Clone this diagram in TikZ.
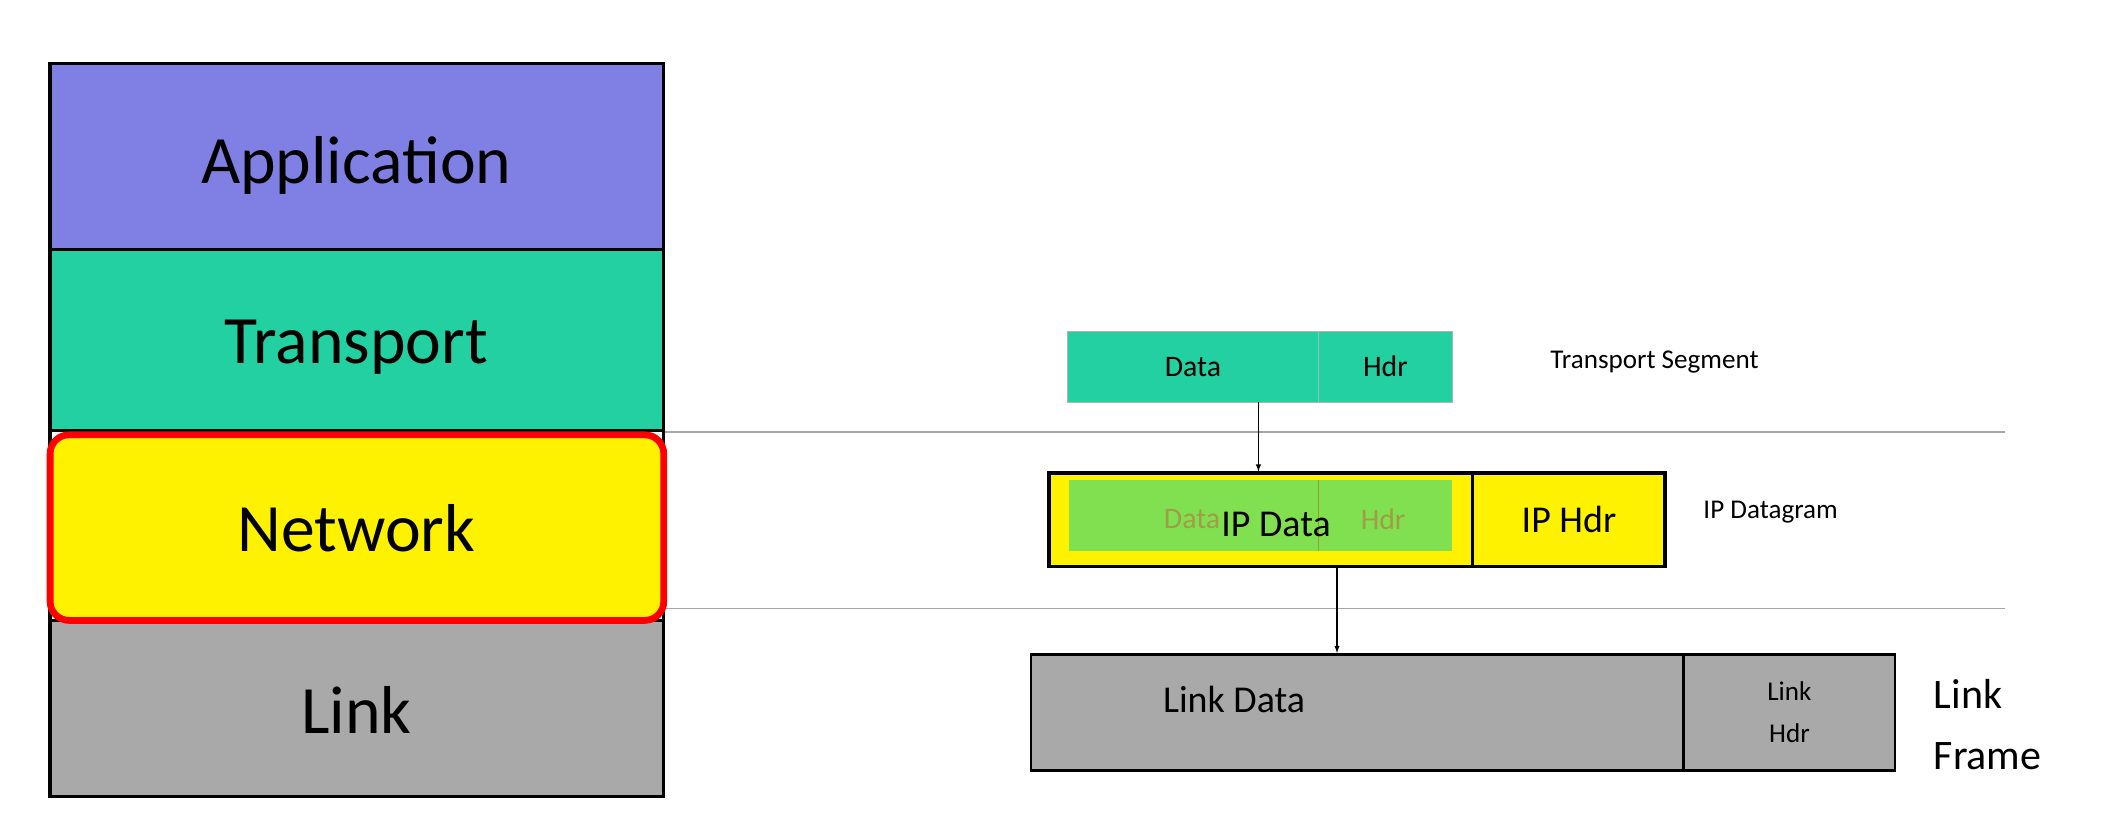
\documentclass[tikz,border=0pt]{standalone}
\usepackage{fontspec}
\setmainfont{Carlito}
\begin{document}
\begin{tikzpicture}[x=1pt,y=-1pt,
  lay/.style={draw=black,line width=2.5pt},
  big/.style={font=\fontsize{50}{54}\selectfont},
  mid/.style={font=\fontsize{28}{30}\selectfont},
  sm/.style={font=\fontsize{22}{24}\selectfont},
  lbl/.style={font=\fontsize{20}{22}\selectfont,anchor=west},
  sep/.style={draw=gray!70,line width=1pt}]
\useasboundingbox (0,0) rectangle (1568,610);
\definecolor{app}{HTML}{8080E4}
\definecolor{tra}{HTML}{22D0A2}
\definecolor{lnk}{HTML}{A9A9A9}
\definecolor{grn}{HTML}{80E050}
% separators
\draw[sep] (490,319) -- (1480,319);
\draw[sep] (490,449) -- (1480,449);
% stack
\fill[app] (37,47) rectangle (490,184);
\fill[tra] (37,184) rectangle (490,318);
\fill[lnk] (37,458) rectangle (490,588);
\draw[lay] (37,47) rectangle (490,588);
\draw[lay] (37,184) -- (490,184);
\draw[lay] (37,318) -- (490,318);
\draw[lay] (37,458) -- (490,458);
\draw[fill=yellow,draw=red,line width=5pt,rounded corners=14pt] (37,321) rectangle (490,458);
\node[big] (app) at (263,122) {Application};
\node[big] (tra) at (263,256) {Transport};
\node[big] (net) at (263,390) {Network};
\node[big] (lnk) at (263,524) {Link};
% transport segment
\node[draw=gray!60,fill=tra,minimum width=185pt,minimum height=53pt,inner sep=0pt,anchor=north west,sm] (td) at (788,244) {Data};
\node[draw=gray!60,fill=tra,minimum width=99pt,minimum height=53pt,inner sep=0pt,anchor=north west,sm] (th) at (973,244) {Hdr};
\node[lbl] (tl) at (1141,267) {Transport Segment};
% IP datagram
\node[draw=black,line width=2.5pt,fill=yellow,minimum width=313pt,minimum height=69pt,inner sep=0pt,anchor=north west] (ipd) at (773,348) {};
\node[draw=black,line width=2.5pt,fill=yellow,minimum width=142pt,minimum height=69pt,inner sep=0pt,anchor=north west,mid] (iph) at (1086,348) {IP Hdr};
\fill[grn] (789,354) rectangle (1072,407);
\draw[olive!60!grn,line width=0.6pt] (973,354) -- (973,407);
\node[sm,text=olive!80!black!70] (fd) at (880,383) {Data};
\node[sm,text=olive!80!black!70] (fh) at (1021,383) {Hdr};
\node[mid] (ipt) at (942,387) {IP Data};
\node[lbl] (il) at (1254,378) {IP Datagram};
% link frame
\node[draw=black,line width=2pt,fill=lnk,minimum width=482pt,minimum height=86pt,inner sep=0pt,anchor=north west] (ld) at (760,482) {};
\node[draw=black,line width=2pt,fill=lnk,minimum width=156pt,minimum height=86pt,inner sep=0pt,anchor=north west,align=center,font=\fontsize{20}{31}\selectfont] (lh) at (1242,482) {Link\\Hdr};
\node[mid] (ldt) at (911,516) {Link Data};
\node[anchor=west,align=left,font=\fontsize{31}{45}\selectfont] (lf) at (1424,535) {Link\\Frame};
% arrows
\draw[-latex,line width=0.8pt] (929,297) -- (929,348);
\draw[-latex,line width=0.8pt] (987,417) -- (ld.north -| 987,0);
\end{tikzpicture}
\end{document}
